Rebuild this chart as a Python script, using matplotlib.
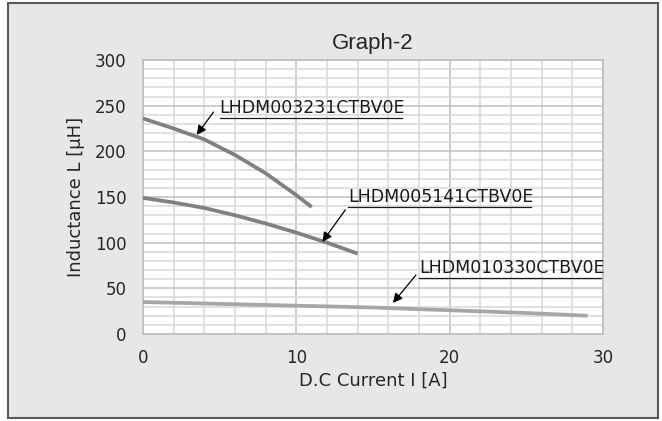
import matplotlib
matplotlib.use("Agg")
import matplotlib.pyplot as plt
from matplotlib.patches import Rectangle
from matplotlib.ticker import MultipleLocator

# Curve data
x_3231 = [0, 2, 4, 6, 8, 10, 11]
y_3231 = [236, 225, 213, 196, 176, 152, 139]

x_5141 = [0, 2, 4, 6, 8, 10, 12, 14]
y_5141 = [149, 144, 138, 130, 121, 111, 100, 88]

x_0330 = [0, 5, 10, 15, 20, 25, 29]
y_0330 = [35, 33, 31, 29, 26, 23, 20]

names = ["LHDM003231CTBV0E", "LHDM005141CTBV0E", "LHDM010330CTBV0E"]

plt.rcParams['font.family'] = ['DejaVu Sans']

fig = plt.figure(figsize=(6.62, 4.21), dpi=100)
fig.patch.set_facecolor("white")

# grey chart area with dark frame
fig.patches.append(Rectangle((8 / 662, 3 / 421), 650 / 662, 415 / 421,
                             transform=fig.transFigure, facecolor="#e6e7e8",
                             edgecolor="#595959", linewidth=1.5, zorder=-1))

ax = fig.add_axes([143 / 662, 87 / 421, 460 / 662, 274 / 421])
ax.set_zorder(1)
ax.set_facecolor("white")

ax.plot(x_3231, y_3231, color="#808080", linewidth=2.7, solid_capstyle="butt", zorder=3)
ax.plot(x_5141, y_5141, color="#808080", linewidth=2.7, solid_capstyle="butt", zorder=3)
ax.plot(x_0330, y_0330, color="#a6a6a6", linewidth=2.7, solid_capstyle="butt", zorder=3)

ax.set_xlim(0, 30)
ax.set_ylim(0, 300)
ax.xaxis.set_major_locator(MultipleLocator(10))
ax.xaxis.set_minor_locator(MultipleLocator(2))
ax.yaxis.set_major_locator(MultipleLocator(50))
ax.yaxis.set_minor_locator(MultipleLocator(10))
ax.grid(which="minor", color="#d9d9d9", linewidth=1.1)
ax.grid(which="major", color="#bfbfbf", linewidth=1.1)
ax.set_axisbelow(True)
ax.tick_params(which="both", length=0, labelsize=12, colors="#262626")
ax.tick_params(axis="y", pad=12)
ax.tick_params(axis="x", pad=11)
for s in ax.spines.values():
    s.set_color("#bfbfbf")
    s.set_linewidth(1.2)

ax.set_title("Graph-2", fontsize=16, family="Liberation Sans", color="#262626", pad=8)
ax.set_xlabel("D.C Current I [A]", fontsize=13, color="#262626", labelpad=3)
ax.set_ylabel("Inductance L [μH]", fontsize=13, color="#262626", labelpad=7)

# labels with underline and arrow
labels = [
    (names[0], 5.0, 236.5, 16.9, (4.6, 243), (3.5, 218)),
    (names[1], 13.4, 139, 25.3, (13.2, 136), (11.7, 101)),
    (names[2], 18.0, 61, 29.9, (17.8, 64.5), (16.3, 34)),
]
for text, tx, ty, tend, tail, head in labels:
    ax.text(tx, ty + 1.0, text, fontsize=12.5, color="#1a1a1a", va="bottom", ha="left", zorder=4)
    ax.plot([tx, tend], [ty, ty], color="#1a1a1a", linewidth=0.9, zorder=4)
    ax.annotate("", xy=head, xytext=tail,
                arrowprops=dict(arrowstyle="-|>", color="black", lw=0.9,
                                mutation_scale=14, shrinkA=0, shrinkB=0), zorder=4)

fig.savefig("out.png", dpi=100)
